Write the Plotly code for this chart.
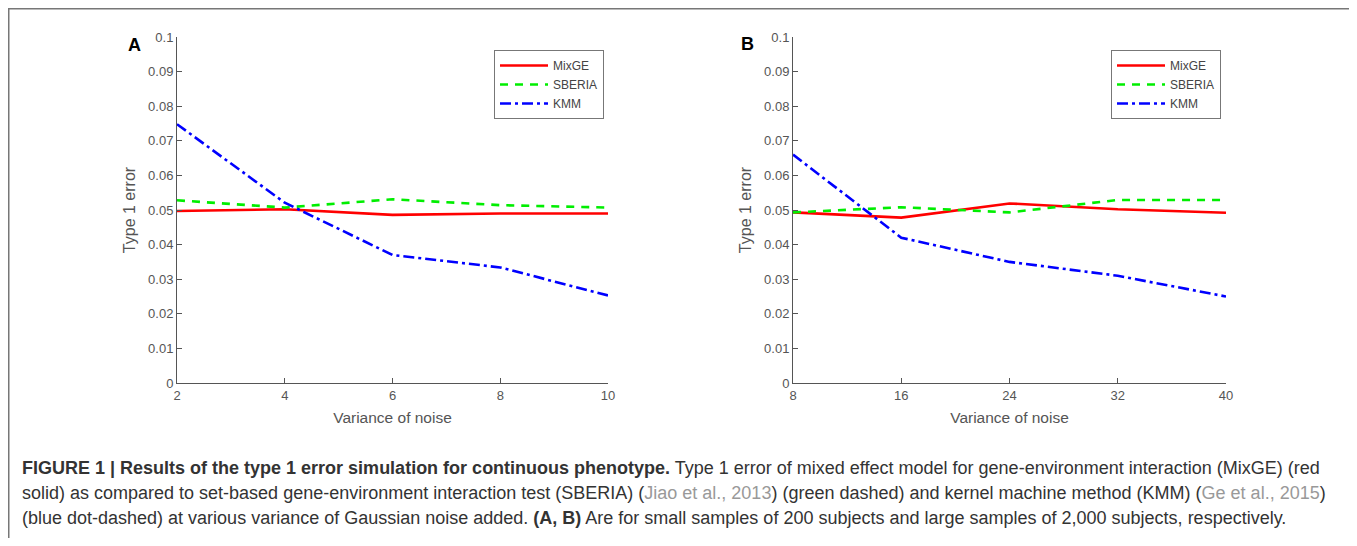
import plotly.graph_objects as go

# panel A: small samples (200 subjects)
noise_a = [2, 4, 6, 8, 10]
mixge_a = [0.0497, 0.0502, 0.0486, 0.0490, 0.0490]
sberia_a = [0.0528, 0.0507, 0.0531, 0.0514, 0.0507]
kmm_a = [0.0748, 0.0521, 0.0370, 0.0334, 0.0253]

# panel B: large samples (2,000 subjects)
noise_b = [8, 16, 24, 32, 40]
mixge_b = [0.0493, 0.0478, 0.0519, 0.0502, 0.0492]
sberia_b = [0.0493, 0.0508, 0.0493, 0.0529, 0.0529]
kmm_b = [0.0660, 0.0420, 0.0350, 0.0310, 0.0250]

yticks = [0, 0.01, 0.02, 0.03, 0.04, 0.05, 0.06, 0.07, 0.08, 0.09, 0.1]
ytick_text = ["0", "0.01", "0.02", "0.03", "0.04", "0.05", "0.06", "0.07", "0.08", "0.09", "0.1"]

# the page body has an 8px margin; keep the figure small enough that no scrollbar shows
OFF = 8
W, H = 1357 - OFF, 546 - 2 * OFF
FONT = "Liberation Sans, Arial, sans-serif"

styles = [
    ("MixGE", "#ff0000", "solid"),
    ("SBERIA", "#00ee00", "8px,7px"),
    ("KMM", "#0000ff", "11px,4px,3px,4px"),
]

fig = go.Figure()
for xs, series, xa, ya, leg in [
    (noise_a, [mixge_a, sberia_a, kmm_a], "x", "y", "legend"),
    (noise_b, [mixge_b, sberia_b, kmm_b], "x2", "y2", "legend2"),
]:
    for (name, color, dash), ys in zip(styles, series):
        fig.add_trace(go.Scatter(x=xs, y=ys, name=name, mode="lines",
                                 line=dict(color=color, dash=dash, width=2.6),
                                 xaxis=xa, yaxis=ya, legend=leg))

# window pixel -> paper fraction
def px_x(p):
    return (p - OFF) / W

def px_y(p):
    return 1 - (p - OFF) / H

axis_common = dict(showline=True, linecolor="#555", linewidth=1, showgrid=False,
                   zeroline=False, ticks="inside", ticklen=5, tickcolor="#555",
                   automargin=False,
                   tickfont=dict(family=FONT, size=13, color="#555"))

xtitle = dict(text="Variance of noise", font=dict(size=15.5, color="#555"), standoff=10)
ytitle = dict(text="Type 1 error", font=dict(size=16, color="#555"), standoff=8)
legend_style = dict(yanchor="top", xanchor="left", bordercolor="#777", borderwidth=1,
                    bgcolor="white", tracegroupgap=0, itemwidth=48,
                    font=dict(family=FONT, size=12, color="#444"))

ydom = [px_y(383), px_y(37)]
fig.update_layout(
    width=W, height=H,
    margin=dict(l=0, r=0, t=0, b=0, autoexpand=False),
    paper_bgcolor="white", plot_bgcolor="white",
    font=dict(family=FONT),
    xaxis=dict(domain=[px_x(177), px_x(608)], range=[2, 10], tickvals=noise_a,
               title=xtitle, anchor="y", **axis_common),
    yaxis=dict(domain=ydom, range=[0, 0.1], tickvals=yticks, ticktext=ytick_text,
               title=ytitle, anchor="x", **axis_common),
    xaxis2=dict(domain=[px_x(793), px_x(1226)], range=[8, 40], tickvals=noise_b,
                title=xtitle, anchor="y2", **axis_common),
    yaxis2=dict(domain=ydom, range=[0, 0.1], tickvals=yticks, ticktext=ytick_text,
                title=ytitle, anchor="x2", **axis_common),
    legend=dict(x=px_x(494), y=px_y(50), **legend_style),
    legend2=dict(x=px_x(1111), y=px_y(50), **legend_style),
)

# panel letters
fig.add_annotation(text="<b>A</b>", x=px_x(126), y=px_y(33), xref="paper", yref="paper",
                   showarrow=False, font=dict(family=FONT, size=18, color="black"))
fig.add_annotation(text="<b>B</b>", x=px_x(747), y=px_y(32), xref="paper", yref="paper",
                   showarrow=False, font=dict(family=FONT, size=18, color="black"))

# caption
grey = '<span style="color:#999">'
caption = [
    "<b>FIGURE 1 | Results of the type 1 error simulation for continuous phenotype.</b> "
    "Type 1 error of mixed effect model for gene-environment interaction (MixGE) (red",
    "solid) as compared to set-based gene-environment interaction test (SBERIA) (" + grey +
    "Jiao et al., 2013</span>) (green dashed) and kernel machine method (KMM) (" + grey +
    "Ge et al., 2015</span>)",
    "(blue dot-dashed) at various variance of Gaussian noise added. <b>(A, B)</b> "
    "Are for small samples of 200 subjects and large samples of 2,000 subjects, respectively.",
]
for i, line in enumerate(caption):
    fig.add_annotation(text=line, x=px_x(20), y=px_y(468 + 25 * i), xref="paper", yref="paper",
                       xanchor="left", yanchor="middle", align="left", showarrow=False,
                       font=dict(family=FONT, size=18, color="#333"))

# outer frame (open at the bottom)
fig.add_shape(type="rect", xref="paper", yref="paper",
              x0=px_x(8.75), x1=px_x(1355), y0=-0.1, y1=px_y(8.75),
              line=dict(color="#777", width=1.5), fillcolor="rgba(0,0,0,0)")

fig.write_html("out.html")
